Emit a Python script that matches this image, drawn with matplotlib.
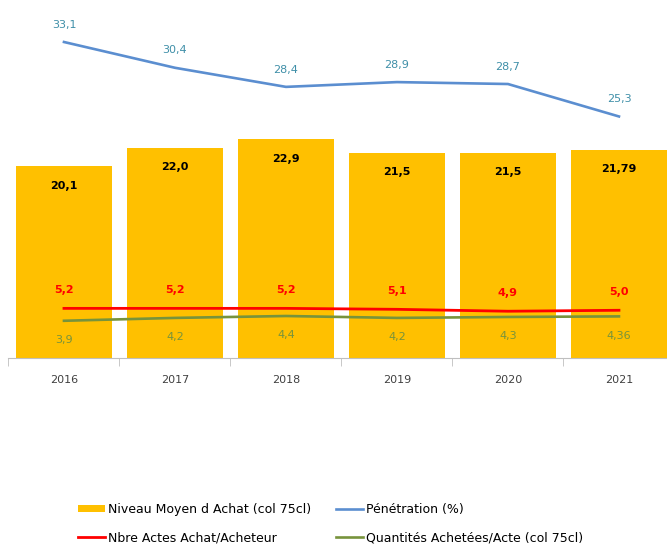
import matplotlib
matplotlib.use("Agg")
import matplotlib.pyplot as plt
import numpy as np

# data
annees = ["2016", "2017", "2018", "2019", "2020", "2021"]
niveau_moyen = [20.1, 22.0, 22.9, 21.5, 21.5, 21.79]
penetration = [33.1, 30.4, 28.4, 28.9, 28.7, 25.3]
actes = [5.2, 5.2, 5.2, 5.1, 4.9, 5.0]
quantites = [3.9, 4.2, 4.4, 4.2, 4.3, 4.36]

niveau_txt = ["20,1", "22,0", "22,9", "21,5", "21,5", "21,79"]
pen_txt = ["33,1", "30,4", "28,4", "28,9", "28,7", "25,3"]
actes_txt = ["5,2", "5,2", "5,2", "5,1", "4,9", "5,0"]
quant_txt = ["3,9", "4,2", "4,4", "4,2", "4,3", "4,36"]

jaune = "#FFC000"
bleu = "#5B8ED0"
rouge = "#FF0000"
vert = "#77933C"

fig = plt.figure(figsize=(6.67, 5.45), dpi=100)
ax = fig.add_axes([0.0127, 0.3431, 0.9985, 0.6569])
x = np.arange(len(annees))

barres = ax.bar(x, niveau_moyen, width=0.87, color=jaune, label="Niveau Moyen d Achat (col 75cl)")
l_pen, = ax.plot(x, penetration, color=bleu, lw=1.9, label="Pénétration (%)")
l_act, = ax.plot(x, actes, color=rouge, lw=2.0, label="Nbre Actes Achat/Acheteur")
l_qte, = ax.plot(x, quantites, color=vert, lw=1.9, label="Quantités Achetées/Acte (col 75cl)")

# etiquettes de valeurs
for i in range(len(annees)):
    ax.annotate(niveau_txt[i], (x[i], niveau_moyen[i]), xytext=(0, -14), textcoords="offset points",
                ha="center", va="center", fontsize=8, fontweight="bold", color="black")
    ax.annotate(pen_txt[i], (x[i], penetration[i]), xytext=(0, 12.5), textcoords="offset points",
                ha="center", va="center", fontsize=8, color="#3F8FA8")
    ax.annotate(actes_txt[i], (x[i], actes[i]), xytext=(0, 13), textcoords="offset points",
                ha="center", va="center", fontsize=8, fontweight="bold", color=rouge)
    ax.annotate(quant_txt[i], (x[i], quantites[i]), xytext=(0, -14), textcoords="offset points",
                ha="center", va="center", fontsize=8, color=vert)

ax.set_xlim(-0.5, 5.5)
ax.set_ylim(0, 37.5)
ax.set_yticks([])
for s in ["top", "right", "left"]:
    ax.spines[s].set_visible(False)
ax.spines["bottom"].set_color("#BFBFBF")
ax.set_xticks(x)
ax.set_xticklabels(annees, fontsize=8, color="#404040")
ax.tick_params(axis="x", length=0, pad=12)
ax.set_xticks(np.arange(-0.5, 6.0, 1.0), minor=True)
ax.tick_params(axis="x", which="minor", length=6, color="#BFBFBF")

fig.legend(handles=[barres, l_act, l_pen, l_qte], ncol=2, loc="upper left",
           bbox_to_anchor=(0.117, 0.077), frameon=False, fontsize=9,
           borderpad=0, borderaxespad=0, handlelength=2.15, handleheight=0.55,
           handletextpad=0.25, columnspacing=2.0, labelspacing=1.2)

fig.savefig("out.png", dpi=100)
